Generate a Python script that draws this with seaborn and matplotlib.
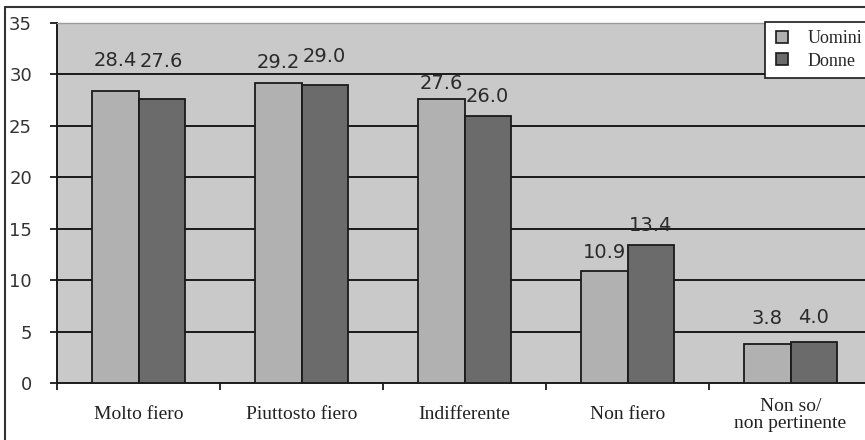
import matplotlib
matplotlib.use("Agg")
import matplotlib.pyplot as plt
import pandas as pd
import seaborn as sns
from matplotlib.lines import Line2D

categories = ["Molto fiero", "Piuttosto fiero", "Indifferente", "Non fiero", "Non so/\nnon pertinente"]
uomini = [28.4, 29.2, 27.6, 10.9, 3.8]
donne = [27.6, 29.0, 26.0, 13.4, 4.0]
series = ["Uomini", "Donne"]
y_ticks = [0, 5, 10, 15, 20, 25, 30, 35]

# lift of each value label above its bar, in pixels
lift_uomini = [30, 20, 16, 18, 25]
lift_donne = [38, 28, 19, 20, 24]

df = pd.DataFrame({
    "categoria": categories * 2,
    "valore": uomini + donne,
    "sesso": [series[0]] * len(categories) + [series[1]] * len(categories),
})

sns.set_style("white")
plt.rcParams["font.family"] = ["DejaVu Sans"]

W, H = 865, 440
fig = plt.figure(figsize=(W / 100, H / 100), dpi=100)
left, right, top, bottom = 57, 872, 23, 383
ax = fig.add_axes([left / W, 1 - bottom / H, (right - left) / W, (bottom - top) / H])
ax.set_facecolor("#c9c9c9")

palette = {"Uomini": "#b1b1b1", "Donne": "#6b6b6c"}
sns.barplot(data=df, x="categoria", y="valore", hue="sesso", hue_order=series,
            palette=palette, width=0.57, edgecolor="#1a1a1a", linewidth=1.3,
            saturation=1, ax=ax, legend=False, zorder=3)

ax.set_ylim(0, 35)
ax.set_xlim(-0.5, len(categories) - 0.5)
ax.set_yticks(y_ticks)
ax.set_yticklabels([str(t) for t in y_ticks], fontsize=13, color="#333333")
for t in y_ticks[1:-1]:
    ax.axhline(t, color="#1a1a1a", linewidth=1.4, zorder=1)

ax.set_xlabel("")
ax.set_ylabel("")
ax.set_xticks(range(len(categories)))
ax.set_xticklabels(categories, family=["Liberation Serif"], fontsize=14,
                   color="#222222", linespacing=1.0)
for lab in ax.get_xticklabels():
    lab.set_verticalalignment("center")
ax.tick_params(axis="x", which="major", length=0, pad=23, bottom=False)
ax.set_xticks([i - 0.5 for i in range(len(categories) + 1)], minor=True)
ax.tick_params(axis="x", which="minor", length=5, width=1.3, color="#1a1a1a", bottom=True)
ax.tick_params(axis="y", length=5, width=1.3, color="#1a1a1a", pad=13, left=True)

for side in ["left", "bottom"]:
    ax.spines[side].set_color("#1a1a1a")
    ax.spines[side].set_linewidth(1.4)
ax.spines["top"].set_color("#9a9a9a")
ax.spines["top"].set_linewidth(1.0)
ax.spines["right"].set_visible(False)

# value labels above each bar
for container, vals, lifts in zip(ax.containers, [uomini, donne], [lift_uomini, lift_donne]):
    for patch, v, lf in zip(container.patches, vals, lifts):
        ax.annotate(f"{v:.1f}", (patch.get_x() + patch.get_width() / 2, v),
                    xytext=(0, lf * 0.72), textcoords="offset points",
                    ha="center", va="center", fontsize=14, color="#2a2a2a")

# legend
handles = [Line2D([0], [0], marker="s", linestyle="none", markersize=8,
                  markerfacecolor=palette[s], markeredgecolor="#1a1a1a",
                  markeredgewidth=1.2) for s in series]
leg = fig.legend(handles, series, loc="upper left",
                 bbox_to_anchor=(765 / W, 1 - 22 / H), frameon=True,
                 fancybox=False, framealpha=1, edgecolor="#1a1a1a",
                 prop={"family": "Liberation Serif", "size": 13},
                 handletextpad=0.9, borderpad=0.45, labelspacing=0.3,
                 handlelength=1.0, borderaxespad=0)
leg.get_frame().set_linewidth(1.2)

# outer frame of the figure
fig.add_artist(Line2D([5 / W, 5 / W], [0, 1 - 7 / H], color="#333333", linewidth=1.5))
fig.add_artist(Line2D([5 / W, 1], [1 - 7 / H, 1 - 7 / H], color="#333333", linewidth=1.5))

fig.savefig("out.png", dpi=100)
